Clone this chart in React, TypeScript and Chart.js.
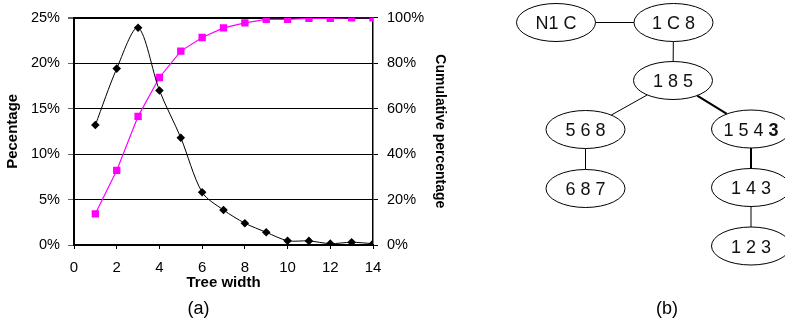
import React, { useEffect, useRef } from "react";
import { Chart, registerables } from "chart.js";

Chart.register(...registerables);

// ---- chart data ----
const treeWidths = [1, 2, 3, 4, 5, 6, 7, 8, 9, 10, 11, 12, 13, 14];
const percentage = [13.2, 19.4, 23.9, 17.0, 11.8, 5.8, 3.85, 2.4, 1.4, 0.47, 0.45, 0.15, 0.3, 0.15];
const cumulative = [13.7, 32.8, 56.6, 73.7, 85.3, 91.3, 95.5, 97.7, 99.3, 99.3, 99.7, 99.7, 100, 100];
const xTitle = "Tree width";
const yTitle = "Pecentage";
const y1Title = "Cumulative percentage";

// ---- tree diagram (b) ----
const nodeLabels = ["N1 C", "1 C 8", "1 8 5", "5 6 8", "1 5 4 ", "6 8 7", "1 4 3", "1 2 3"];
const boldSuffix: Record<number, string> = { 4: "3" };
const edges: [number, number, boolean][] = [
  [0, 1, false],
  [1, 2, false],
  [2, 3, false],
  [2, 4, true],
  [3, 5, false],
  [4, 6, true],
  [6, 7, false],
];

const FONT = "'Liberation Sans', Arial, Helvetica, sans-serif";

// layout of the diagram (positions only)
const nodePos: [number, number][] = [
  [556, 22.5],
  [673.5, 22.5],
  [673, 80.5],
  [585.5, 129.5],
  [751, 129],
  [585.5, 188.5],
  [751, 187.5],
  [751, 246],
];
const RX = 39.5;
const RY = 19;

function edgePoints(a: number, b: number): [number, number, number, number] {
  const [x1, y1] = nodePos[a];
  const [x2, y2] = nodePos[b];
  const dx = x2 - x1;
  const dy = y2 - y1;
  const t = 1 / Math.sqrt((dx * dx) / (RX * RX) + (dy * dy) / (RY * RY));
  return [x1 + dx * t, y1 + dy * t, x2 - dx * t, y2 - dy * t];
}

export default function App() {
  const canvasRef = useRef<HTMLCanvasElement | null>(null);

  useEffect(() => {
    const canvas = canvasRef.current;
    if (!canvas) return;
    const black = "#000000";
    const chart = new Chart(canvas, {
      type: "line",
      data: {
        datasets: [
          {
            label: "Percentage",
            data: treeWidths.map((w, i) => ({ x: w, y: percentage[i] })),
            yAxisID: "y",
            borderColor: black,
            backgroundColor: black,
            borderWidth: 1,
            pointStyle: "rectRot",
            pointRadius: 4.3,
            pointBorderWidth: 0,
            tension: 0.3,
          },
          {
            label: "Cumulative",
            data: treeWidths.map((w, i) => ({ x: w, y: cumulative[i] })),
            yAxisID: "y1",
            borderColor: "#ff00ff",
            backgroundColor: "#ff00ff",
            borderWidth: 1.2,
            pointStyle: "rect",
            pointRadius: 5.2,
            pointBorderWidth: 0,
            tension: 0,
          },
        ],
      },
      options: {
        animation: false,
        responsive: false,
        devicePixelRatio: 1,
        layout: { padding: { top: 16, left: 0, right: 0, bottom: 0 } },
        plugins: { legend: { display: false }, tooltip: { enabled: false } },
        scales: {
          x: {
            type: "linear",
            position: "bottom",
            min: 0,
            max: 14,
            ticks: {
              stepSize: 2,
              color: black,
              padding: 10,
              font: { family: FONT, size: 15 },
            },
            grid: { drawOnChartArea: false, drawTicks: true, tickLength: 4, tickColor: black },
            border: { color: black, width: 2 },
            title: {
              display: true,
              text: xTitle,
              color: black,
              font: { family: FONT, size: 15, weight: "bold" },
              padding: { top: 2, bottom: 4 },
            },
            afterFit: (s: any) => {
              s.height = 51;
            },
          },
          y: {
            type: "linear",
            position: "left",
            min: 0,
            max: 25,
            ticks: {
              stepSize: 5,
              color: black,
              padding: 8,
              font: { family: FONT, size: 14.5 },
              callback: (v: any) => v + "%",
            },
            grid: {
              color: black,
              lineWidth: (ctx: any) => (ctx.tick && ctx.tick.value === 25 ? 2 : 1),
              tickLength: 6,
              tickColor: "#666666",
            },
            border: { color: black, width: 2 },
            title: {
              display: true,
              text: yTitle,
              color: black,
              font: { family: FONT, size: 15, weight: "bold" },
              padding: { top: 4, bottom: 4 },
            },
            afterFit: (s: any) => {
              s.width = 74;
            },
          },
          y1: {
            type: "linear",
            position: "right",
            min: 0,
            max: 100,
            ticks: {
              stepSize: 20,
              color: black,
              padding: 9,
              font: { family: FONT, size: 14.5 },
              callback: (v: any) => v + "%",
            },
            grid: { drawOnChartArea: false, tickLength: 5, tickColor: black },
            border: { color: black, width: 1.5 },
            title: {
              display: true,
              text: y1Title,
              color: black,
              font: { family: FONT, size: 14, weight: "bold" },
              padding: { top: 4, bottom: 4 },
            },
            afterFit: (s: any) => {
              s.width = 79;
            },
          },
        },
      },
    } as any);
    return () => chart.destroy();
  }, []);

  return (
    <div
      style={{
        position: "absolute",
        left: 0,
        top: 0,
        width: 785,
        height: 322,
        background: "#ffffff",
        overflow: "hidden",
      }}
    >
      <canvas
        ref={canvasRef}
        width={452}
        height={296}
        style={{ position: "absolute", left: 0, top: 0, width: 452, height: 296 }}
      />
      <svg
        width={785}
        height={322}
        style={{ position: "absolute", left: 0, top: 0, pointerEvents: "none" }}
      >
        {edges.map(([a, b, thick], i) => {
          const [x1, y1, x2, y2] = edgePoints(a, b);
          return (
            <line
              key={"e" + i}
              x1={x1}
              y1={y1}
              x2={x2}
              y2={y2}
              stroke="#000"
              strokeWidth={thick ? 2 : 1}
            />
          );
        })}
        {nodeLabels.map((label, i) => {
          const [cx, cy] = nodePos[i];
          return (
            <g key={"n" + i}>
              <ellipse cx={cx} cy={cy} rx={RX} ry={RY} fill="#fff" stroke="#000" strokeWidth={1} />
              <text
                x={cx}
                y={cy + 6.5}
                textAnchor="middle"
                fontFamily={FONT}
                fontSize={18}
                fill="#111"
                style={{ whiteSpace: "pre" }}
              >
                {label}
                {boldSuffix[i] ? <tspan fontWeight="bold">{boldSuffix[i]}</tspan> : null}
              </text>
            </g>
          );
        })}
        <text x={198.5} y={314} textAnchor="middle" fontFamily={FONT} fontSize={18} fill="#000">
          (a)
        </text>
        <text x={667} y={314} textAnchor="middle" fontFamily={FONT} fontSize={18} fill="#000">
          (b)
        </text>
      </svg>
    </div>
  );
}
